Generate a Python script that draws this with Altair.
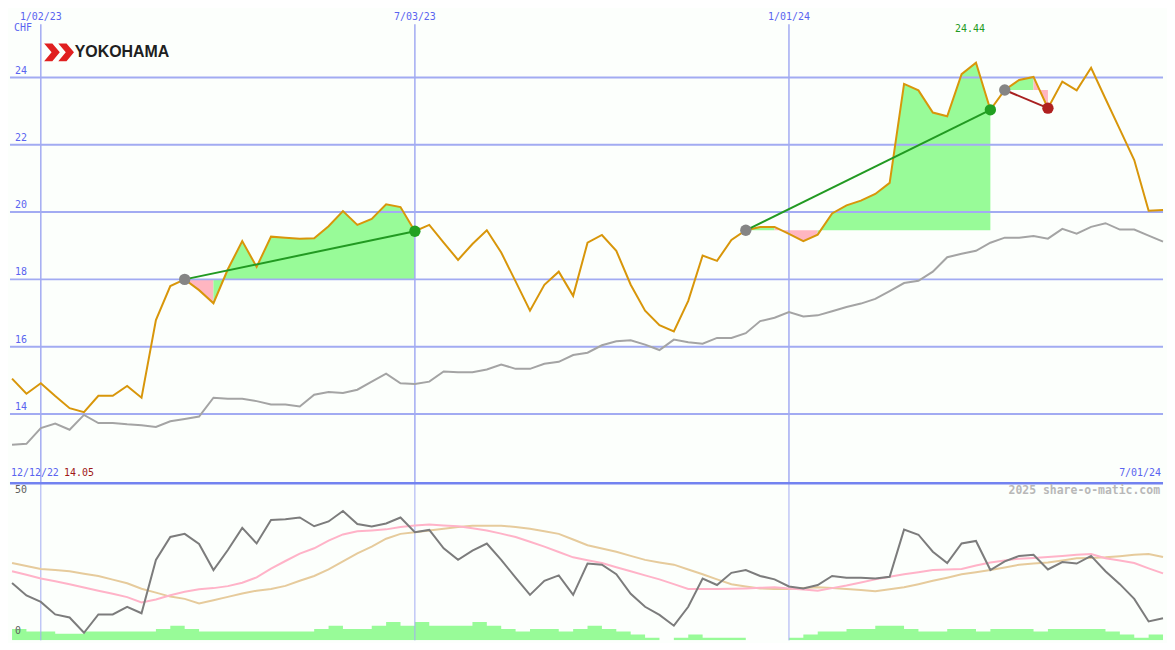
import altair as alt
import pandas as pd

# ---------------- data (weekly) ----------------
first_week = "2022-12-19"
price = [15.05, 14.60, 14.91, 14.53, 14.17, 14.05, 14.54, 14.54, 14.83, 14.48,
         16.79, 17.80, 18.00, 17.68, 17.29, 18.30, 19.14, 18.37, 19.27, 19.24,
         19.21, 19.22, 19.58, 20.03, 19.62, 19.80, 20.23, 20.15, 19.43, 19.62,
         19.09, 18.58, 19.05, 19.46, 18.80, 17.94, 17.07, 17.84, 18.23, 17.51,
         19.09, 19.32, 18.85, 17.84, 17.07, 16.64, 16.45, 17.36, 18.71, 18.55,
         19.17, 19.46, 19.56, 19.56, 19.35, 19.14, 19.33, 19.96, 20.20, 20.34,
         20.54, 20.87, 23.81, 23.62, 22.96, 22.85, 24.10, 24.44, 23.04, 23.63,
         23.93, 24.02, 23.09, 23.88, 23.62, 24.29, 23.37, 22.46, 21.55, 20.04,
         20.06]
moving_avg = [13.08, 13.11, 13.58, 13.71, 13.53, 13.97, 13.73, 13.73, 13.69, 13.66,
              13.61, 13.78, 13.85, 13.92, 14.48, 14.45, 14.45, 14.38, 14.28, 14.28,
              14.22, 14.57, 14.65, 14.62, 14.72, 14.96, 15.20, 14.91, 14.89, 14.96,
              15.26, 15.24, 15.24, 15.32, 15.47, 15.34, 15.34, 15.49, 15.55, 15.75,
              15.82, 16.04, 16.16, 16.19, 16.06, 15.90, 16.21, 16.13, 16.09, 16.26,
              16.26, 16.40, 16.76, 16.86, 17.03, 16.90, 16.93, 17.05, 17.18, 17.28,
              17.42, 17.65, 17.89, 17.96, 18.23, 18.66, 18.76, 18.85, 19.09, 19.24,
              19.24, 19.29, 19.21, 19.50, 19.36, 19.56, 19.67, 19.48, 19.48, 19.30,
              19.12]
osc = [19.8, 15.4, 13.1, 8.7, 7.6, 2.2, 8.7, 8.7, 11.4, 9.1,
       28.0, 36.1, 37.2, 33.6, 24.4, 31.5, 39.3, 33.8, 42.1, 42.4,
       43.0, 39.9, 41.6, 45.3, 40.7, 39.8, 40.9, 43.0, 37.8, 38.6,
       32.1, 28.0, 31.3, 33.8, 28.0, 21.7, 15.6, 20.6, 22.5, 15.6,
       26.7, 26.3, 22.9, 16.0, 11.4, 8.5, 4.7, 11.4, 21.4, 19.1,
       23.4, 24.4, 22.3, 21.1, 18.6, 17.9, 19.1, 22.3, 21.7, 21.7,
       21.4, 22.0, 38.7, 36.9, 30.9, 26.9, 33.8, 34.7, 24.4, 27.5,
       29.4, 29.8, 24.6, 27.2, 26.7, 29.4, 24.0, 19.4, 14.2, 6.2,
       7.3]
osc_fast = [24.0, 22.7, 21.4, 20.4, 19.4, 18.2, 17.1, 16.0, 14.8, 12.9,
            14.0, 15.5, 16.7, 17.6, 18.0, 18.7, 19.9, 21.8, 24.9, 27.6,
            30.2, 32.1, 34.8, 37.0, 38.1, 38.4, 38.8, 39.6, 40.2, 40.5,
            40.2, 39.9, 39.2, 38.4, 37.3, 36.1, 34.4, 32.7, 30.8, 28.9,
            27.9, 26.9, 25.4, 24.0, 22.5, 21.1, 19.4, 17.7, 17.7, 17.7,
            17.8, 17.9, 18.1, 18.3, 17.9, 17.5, 17.1, 18.0, 18.9, 20.0,
            21.1, 22.0, 22.9, 23.6, 24.4, 24.6, 24.8, 26.0, 27.1, 27.8,
            28.4, 28.7, 29.0, 29.4, 29.8, 30.1, 28.6, 27.8, 26.9, 25.0,
            23.2]
osc_slow = [26.9, 25.8, 24.8, 24.4, 24.0, 23.1, 22.3, 21.0, 19.7, 17.8,
            16.4, 15.0, 14.2, 12.6, 13.7, 14.9, 16.1, 17.1, 17.7, 18.8,
            20.6, 22.3, 24.6, 27.5, 30.3, 32.7, 35.5, 37.2, 37.8, 38.4,
            39.0, 39.6, 40.1, 40.1, 40.1, 39.6, 39.0, 38.1, 37.2, 35.2,
            33.2, 32.0, 30.9, 29.4, 28.0, 27.1, 26.3, 24.6, 22.9, 21.1,
            19.4, 18.6, 17.9, 17.7, 17.7, 18.0, 18.3, 18.0, 17.7, 17.3,
            16.9, 17.6, 18.3, 19.4, 20.6, 21.7, 22.9, 23.6, 24.4, 25.3,
            26.3, 26.7, 27.1, 27.8, 28.6, 28.7, 28.9, 29.3, 29.8, 30.1,
            29.0]
volume = [4.0, 3.1, 3.1, 2.3, 2.3, 3.1, 3.1, 3.1, 3.1, 3.1,
          4.0, 5.2, 4.0, 3.1, 3.1, 3.1, 3.1, 3.1, 3.1, 3.1,
          3.1, 4.0, 5.2, 4.0, 4.0, 5.2, 6.5, 5.2, 6.5, 5.2,
          5.2, 5.2, 6.5, 5.2, 4.0, 3.1, 4.0, 4.0, 3.1, 4.0,
          5.2, 4.0, 3.1, 2.1, 0.9, 0.0, 0.9, 2.1, 0.9, 0.9,
          0.9, 0.0, 0.0, 0.0, 0.9, 2.1, 3.1, 3.1, 4.0, 4.0,
          5.2, 5.2, 4.0, 3.1, 3.1, 4.0, 4.0, 3.1, 4.0, 4.0,
          4.0, 3.1, 4.0, 4.0, 4.0, 4.0, 3.1, 2.1, 0.9, 2.1,
          2.1]
grid_values = [14, 16, 18, 20, 22, 24]
grid_labels = ["14", "16", "18", "20", "22", "24"]
date_ticks = ["2023-01-02", "2023-07-03", "2024-01-01"]
date_tick_labels = ["1/02/23", "7/03/23", "1/01/24"]
trend_windows = [(12, 28), (51, 68), (69, 72)]
osc_ticks = [50, 0]
osc_tick_labels = ["50", "0"]
currency = "CHF"
start_label = "12/12/22"
end_label = "7/01/24"
watermark = "2025 share-o-matic.com"
company = "YOKOHAMA"

# ---------------- layout / style ----------------
W, H1, H2 = 1159, 475, 159
SX, SY, SY2 = W / 1175, H1 / 487, H2 / 163
BG = "#fcfffc"
GRID = "#a2abf2"
LAB = "#5a64f0"
MONO = "DejaVu Sans Mono"
FS = 10
ORANGE = "#d8960a"

n = len(price)
dates = pd.date_range(first_week, periods=n, freq="7D")
df = pd.DataFrame({"date": dates, "price": price, "ma": moving_avg, "osc": osc,
                   "fast": osc_fast, "slow": osc_slow})
# volume as a step area; one extra point closes the last week
vol_df = pd.DataFrame({"date": list(dates) + [dates[-1] + pd.Timedelta(days=7)],
                       "vol": volume + [volume[-1]]})
grid_df = pd.DataFrame({"value": grid_values, "label": grid_labels})
tick_df = pd.DataFrame({"date": pd.to_datetime(date_ticks), "label": date_tick_labels})

fill_rows, trend_rows, start_rows, end_rows = [], [], [], []
run = 0
for w, (s, e) in enumerate(trend_windows):
    base = price[s]
    prev_kind = None
    for i in range(s, e):
        kind = "up" if price[i + 1] >= base else "down"
        if kind != prev_kind:
            run += 1
            prev_kind = kind
        for j in (i, i + 1):
            fill_rows.append({"date": dates[j], "price": price[j], "base": base,
                              "seg": f"{run}", "kind": kind})
    tk = "up" if price[e] >= price[s] else "down"
    trend_rows += [{"date": dates[s], "price": price[s], "id": w, "kind": tk},
                   {"date": dates[e], "price": price[e], "id": w, "kind": tk}]
    start_rows.append({"date": dates[s], "price": price[s]})
    end_rows.append({"date": dates[e], "price": price[e], "kind": tk})
fill_df = pd.DataFrame(fill_rows).drop_duplicates(subset=["seg", "date"])
trend_df = pd.DataFrame(trend_rows)
start_df = pd.DataFrame(start_rows)
end_df = pd.DataFrame(end_rows)

imax = max(range(n), key=lambda i: price[i])
imin = min(range(n), key=lambda i: price[i])
max_df = pd.DataFrame({"date": [dates[imax]], "label": [f"{price[imax]:.2f}"]})
min_label = f"{price[imin]:.2f}"

xscale = alt.Scale(domain=[alt.DateTime(year=2022, month=12, date=18),
                           alt.DateTime(year=2024, month=7, date=1)], nice=False)
ytop = alt.Scale(domain=[11.97, 26.02], nice=False, zero=False)
yosc = alt.Scale(domain=[-0.5, 55.5], nice=False, zero=False)
yvol = alt.Scale(domain=[0, 56], nice=False, zero=False)


def X(field="date"):
    return alt.X(f"{field}:T", scale=xscale, axis=None)


def YT(field):
    return alt.Y(f"{field}:Q", scale=ytop, axis=None)


def YO(field):
    return alt.Y(f"{field}:Q", scale=yosc, axis=None)


# ---------------- top panel ----------------
fills = alt.Chart(fill_df).mark_area(opacity=1, interpolate="linear").encode(
    x=X(), y=YT("price"), y2="base:Q",
    color=alt.Color("kind:N", scale=alt.Scale(domain=["up", "down"],
                                              range=["#98fb98", "#ffb6c1"]), legend=None),
    detail="seg:N")
hgrid = alt.Chart(grid_df).mark_rule(color=GRID, strokeWidth=2).encode(y=YT("value"))
vgrid = alt.Chart(tick_df).mark_rule(color=GRID, strokeWidth=1.5).encode(
    x=X(), y=alt.value(15 * SY), y2=alt.value(H1))
ma_line = alt.Chart(df).mark_line(color="#a4a4a4", strokeWidth=2).encode(x=X(), y=YT("ma"))
price_line = alt.Chart(df).mark_line(color=ORANGE, strokeWidth=2).encode(x=X(), y=YT("price"))
trend = alt.Chart(trend_df).mark_line(strokeWidth=2).encode(
    x=X(), y=YT("price"), detail="id:N",
    color=alt.Color("kind:N", scale=alt.Scale(domain=["up", "down"],
                                              range=["#229a22", "#a82020"]), legend=None))
start_dots = alt.Chart(start_df).mark_circle(size=130, color="#858585", opacity=1).encode(
    x=X(), y=YT("price"))
end_dots = alt.Chart(end_df).mark_circle(size=130, opacity=1).encode(
    x=X(), y=YT("price"),
    color=alt.Color("kind:N", scale=alt.Scale(domain=["up", "down"],
                                              range=["#22a022", "#b02020"]), legend=None))

grid_lab = alt.Chart(grid_df).mark_text(align="left", baseline="bottom", dy=-2, font=MONO,
                                        fontSize=FS, color=LAB).encode(
    x=alt.value(5 * SX), y=YT("value"), text="label:N")
date_lab = alt.Chart(tick_df).mark_text(align="center", baseline="top", font=MONO,
                                        fontSize=FS, color=LAB).encode(
    x=X(), y=alt.value(2), text="label:N")
txt_df = pd.DataFrame({"cur": [currency], "start": [start_label], "end": [end_label],
                       "min": [min_label], "wm": [watermark], "co": [company]})
chf = alt.Chart(txt_df).mark_text(align="left", baseline="top", font=MONO, fontSize=FS,
                                  color=LAB).encode(x=alt.value(4 * SX), y=alt.value(14 * SY),
                                                    text="cur:N")
max_lab = alt.Chart(max_df).mark_text(align="center", baseline="top", font=MONO, fontSize=FS,
                                      color="#229a22", dx=-6).encode(
    x=X(), y=alt.value(15 * SY), text="label:N")
start_lab = alt.Chart(txt_df).mark_text(align="left", baseline="top", font=MONO, fontSize=FS,
                                        color=LAB).encode(x=alt.value(1), y=alt.value(472 * SY),
                                                          text="start:N")
min_lab = alt.Chart(txt_df).mark_text(align="left", baseline="top", font=MONO, fontSize=FS,
                                      color="#a01818").encode(x=alt.value(55 * SX),
                                                              y=alt.value(472 * SY), text="min:N")
end_lab = alt.Chart(txt_df).mark_text(align="right", baseline="top", font=MONO, fontSize=FS,
                                      color=LAB).encode(x=alt.value(W - 2), y=alt.value(472 * SY),
                                                        text="end:N")
chevron = ("M-1,-0.6 L-0.45,-0.6 L0.05,0 L-0.45,0.6 L-1,0.6 L-0.5,0 Z "
           "M-0.05,-0.6 L0.5,-0.6 L1,0 L0.5,0.6 L-0.05,0.6 L0.45,0 Z")
logo_mark = alt.Chart(txt_df).mark_point(shape=chevron, filled=True, color="#e02020",
                                         size=900, opacity=1).encode(
    x=alt.value(50 * SX), y=alt.value(44 * SY))
logo_text = alt.Chart(txt_df).mark_text(align="left", baseline="middle", font="Liberation Sans",
                                        fontSize=16, fontWeight="bold", color="#202020").encode(
    x=alt.value(66 * SX), y=alt.value(44 * SY), text="co:N")

top = alt.layer(fills, hgrid, vgrid, ma_line, price_line, trend, start_dots, end_dots,
                grid_lab, date_lab, chf, max_lab, start_lab, min_lab, end_lab,
                logo_mark, logo_text).resolve_scale(color="independent").properties(
    width=W, height=H1)

# ---------------- bottom panel ----------------
osc_tick_df = pd.DataFrame({"value": osc_ticks, "label": osc_tick_labels})
vol_area = alt.Chart(vol_df).mark_area(color="#98fb98", interpolate="step-after", clip=True,
                                       opacity=1).encode(
    x=X(), y=alt.Y("vol:Q", scale=yvol, axis=None), y2=alt.datum(0))
vgrid2 = alt.Chart(tick_df).mark_rule(color=GRID, strokeWidth=1).encode(x=X())
slow_line = alt.Chart(df).mark_line(color="#e6cb9c", strokeWidth=2).encode(x=X(), y=YO("slow"))
fast_line = alt.Chart(df).mark_line(color="#ffb3c8", strokeWidth=2).encode(x=X(), y=YO("fast"))
osc_line = alt.Chart(df).mark_line(color="#7c7c7c", strokeWidth=2).encode(x=X(), y=YO("osc"))
sep = alt.Chart(txt_df).mark_rule(color="#7282f0", strokeWidth=2.5).encode(
    x=alt.value(0), x2=alt.value(W), y=alt.value(1))
osc_lab = alt.Chart(osc_tick_df).mark_text(align="left", baseline="bottom", dy=-3, font=MONO,
                                           fontSize=FS, color="#606060").encode(
    x=alt.value(5 * SX), y=YO("value"), text="label:N")
wm = alt.Chart(txt_df).mark_text(align="right", baseline="top", font=MONO, fontSize=11.5,
                                 fontWeight="bold", color="#b8b8b8").encode(
    x=alt.value(W - 3), y=alt.value(3 * SY2), text="wm:N")

bottom = alt.layer(vol_area, vgrid2, slow_line, fast_line, osc_line, sep, osc_lab, wm
                   ).resolve_scale(y="independent").properties(width=W, height=H2)

chart = alt.vconcat(top, bottom, spacing=0).properties(
    padding=0, background=BG, bounds="flush").configure_view(stroke=None)

chart.save("out.html", embed_options={"renderer": "svg", "actions": False})
